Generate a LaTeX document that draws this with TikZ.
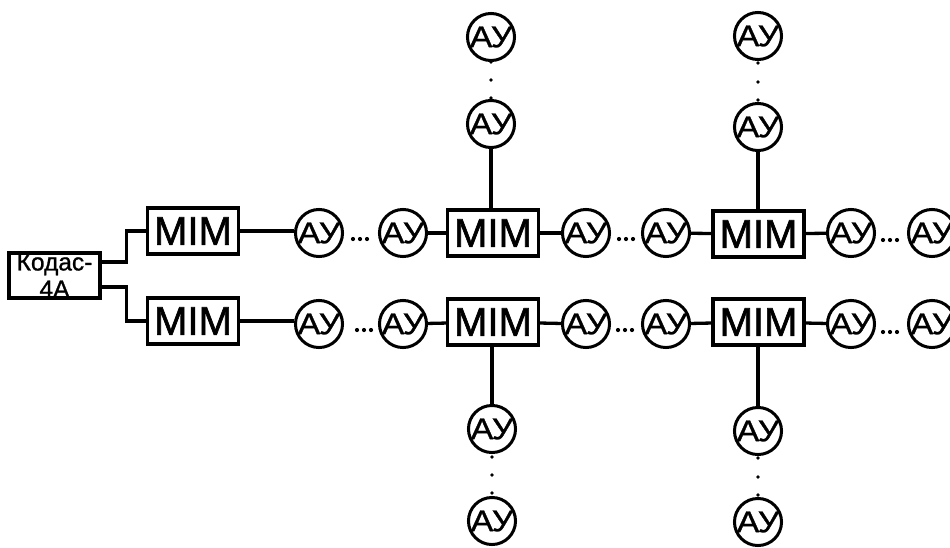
\documentclass[tikz,border=0pt]{standalone}
\usepackage{fontspec}
\setmainfont{Liberation Sans}
\newfontfamily\heavyfont[FakeBold=1.6]{Liberation Sans}
\newfontfamily\midfont[FakeBold=1.0]{Liberation Sans}
\begin{document}
\begin{tikzpicture}[x=1pt,y=-1pt,
  mimbox/.style={draw, line width=3.3pt, minimum width=91pt, minimum height=46pt, inner sep=0pt, font=\heavyfont\fontsize{40}{40}\selectfont},
  kbox/.style={draw, line width=3.3pt, minimum width=91pt, minimum height=45pt, inner sep=0pt, align=center, font=\midfont\fontsize{24.5}{27}\selectfont},
  au/.style={draw, circle, line width=3pt, minimum size=45pt, inner sep=0pt, font=\midfont\fontsize{30}{30}\selectfont},
  wire/.style={line width=3.3pt},
  dotfill/.style={fill=black}]
\useasboundingbox (0,0) rectangle (950,547);
\newcommand{\auText}{\scalebox{1.12}[1]{АУ}}
% main nodes
\node[kbox] (kodas) at (54.5,275.5) {Кодас-\\4А};
\node[mimbox] (mim1a) at (193,231) {MIM};
\node[mimbox] (mim1b) at (193,321) {MIM};
\node[mimbox] (mim2a) at (493,233) {MIM};
\node[mimbox] (mim2b) at (493,322) {MIM};
\node[mimbox] (mim3a) at (758.5,234) {MIM};
\node[mimbox] (mim3b) at (758.5,322) {MIM};
% row 1 circles
\node[au] (a11) at (319,233) {\auText};
\node[au] (a12) at (403,233) {\auText};
\node[au] (a13) at (586,233) {\auText};
\node[au] (a14) at (666,233) {\auText};
\node[au] (a15) at (851,233) {\auText};
\node[au] (a16) at (932,233) {\auText};
% row 2 circles
\node[au] (b11) at (319,324) {\auText};
\node[au] (b12) at (403,324) {\auText};
\node[au] (b13) at (586,324) {\auText};
\node[au] (b14) at (666,324) {\auText};
\node[au] (b15) at (851,324) {\auText};
\node[au] (b16) at (932,324) {\auText};
% vertical circles
\node[au] (t21) at (491,37) {\auText};
\node[au] (t22) at (491,124) {\auText};
\node[au] (d21) at (492,429) {\auText};
\node[au] (d22) at (492,521) {\auText};
\node[au] (t31) at (758,36) {\auText};
\node[au] (t32) at (758,127) {\auText};
\node[au] (d31) at (758,431) {\auText};
\node[au] (d32) at (758,522) {\auText};
% Kodas connectors
\draw[wire] ([yshift=13.5pt]kodas.east) -- ++(25,0) |- (mim1a.west);
\draw[wire] ([yshift=-11.5pt]kodas.east) -- ++(25,0) |- (mim1b.west);
% row connectors
\draw[wire] (mim1a.east) -- (mim1a.east -| a11.west);
\draw[wire] (a12) -- (mim2a);
\draw[wire] (mim2a) -- (a13);
\draw[wire] (a14) -- (mim3a);
\draw[wire] (mim3a) -- (a15);
\draw[wire] (mim1b.east) -- (mim1b.east -| b11.west);
\draw[wire] (b12) -- (mim2b);
\draw[wire] (mim2b) -- (b13);
\draw[wire] (b14) -- (mim3b);
\draw[wire] (mim3b) -- (b15);
% vertical connectors
\draw[wire] (mim2a.north -| t22.south) -- (t22.south);
\draw[wire] (mim2b.south -| d21.north) -- (d21.north);
\draw[wire] (mim3a.north -| t32.south) -- (t32.south);
\draw[wire] (mim3b.south -| d31.north) -- (d31.north);
% dots
\foreach \x in {353,360,367} \fill[dotfill] (\x,239) circle (2.1);
\foreach \x in {619,626,633} \fill[dotfill] (\x,239) circle (2.1);
\foreach \x in {883,890,897} \fill[dotfill] (\x,240) circle (2.1);
\foreach \x in {357,364,371} \fill[dotfill] (\x,330) circle (2.1);
\foreach \x in {618,625,632} \fill[dotfill] (\x,330) circle (2.1);
\foreach \x in {883,890,897} \fill[dotfill] (\x,332) circle (2.1);
\foreach \y in {62,80,98} \fill[dotfill] (491,\y) circle (1.8);
\foreach \y in {63,82,100} \fill[dotfill] (758,\y) circle (1.8);
\foreach \y in {457,475,493} \fill[dotfill] (492,\y) circle (1.8);
\foreach \y in {458,477,495} \fill[dotfill] (758,\y) circle (1.8);
\end{tikzpicture}
\end{document}
